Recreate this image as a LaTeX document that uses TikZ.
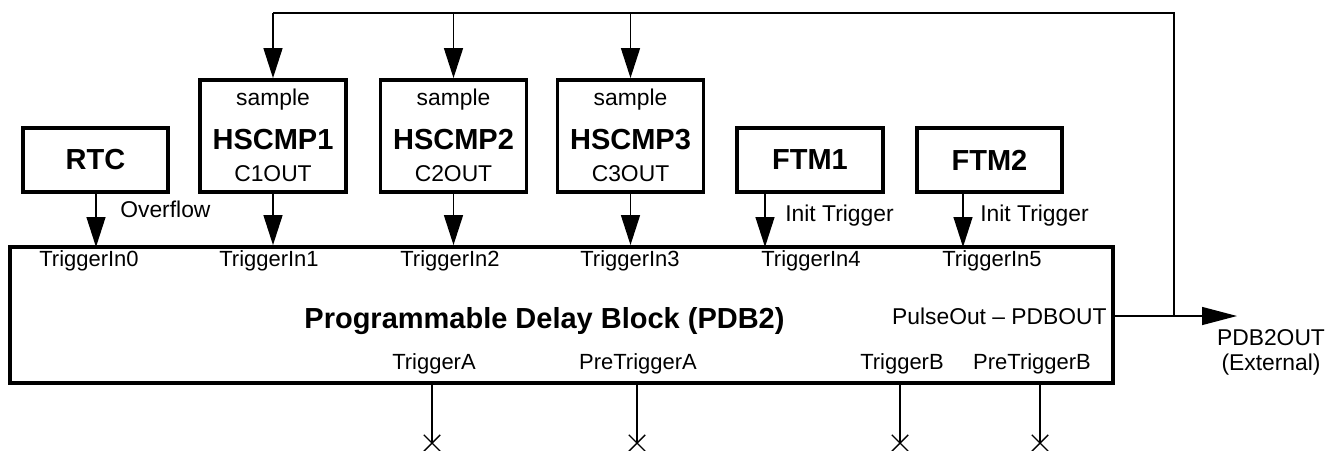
\documentclass[tikz,border=0pt]{standalone}
\usepackage{fontspec}
\setmainfont{Liberation Sans}
\usetikzlibrary{arrows.meta,positioning,calc,shapes.misc}

\begin{document}
\begin{tikzpicture}[x=0.02cm,y=-0.02cm,
    blk/.style={draw,line width=2.2pt,inner sep=0pt},
    sig/.style={line width=0.8pt},
    arr/.style={sig,-{Triangle[length=0.6cm,width=0.38cm]}},
    lbl/.style={font=\fontsize{12.5}{14}\selectfont,inner sep=0pt},
    big/.style={font=\fontsize{16.5}{19}\selectfont\bfseries,inner sep=0pt}]
  \useasboundingbox (0,0) rectangle (1329,450);
  % main block
  \node[blk,minimum width=22.06cm,minimum height=2.72cm] (pdb) at (561.5,315) {};
  \node[big] (title) at (544.5,321) {Programmable Delay Block (PDB2)};
  % trigger sources
  \node[blk,big,minimum width=2.9cm,minimum height=1.28cm] (rtc) at (95.5,160) {RTC};
  \node[blk,big,minimum width=2.92cm,minimum height=1.28cm] (ftm1) at (810,160) {FTM1};
  \node[blk,big,minimum width=2.9cm,minimum height=1.28cm] (ftm2) at (989.5,160) {FTM2};
  \foreach \i/\x in {1/273,2/453.5,3/630.5}{
    \node[blk,minimum width=2.92cm,minimum height=2.24cm] (hs\i) at (\x,136) {};
    \node[lbl,font=\fontsize{13}{15}\selectfont] (smp\i) at ($(hs\i.north)+(0,22)$) {sample};
    \node[big] (nm\i) at ($(hs\i.north)+(0,61)$) {HSCMP\i};
    \node[lbl,font=\fontsize{13}{15}\selectfont] (co\i) at ($(hs\i.north)+(0,96)$) {C\i OUT};
  }
  % trigger inputs
  \coordinate (ti0) at (96,247);
  \coordinate (ti4) at (765,247);
  \coordinate (ti5) at (963,247);
  \draw[arr] (rtc.south -| ti0) -- (ti0);
  \foreach \i in {1,2,3}
    \draw[arr] (hs\i.south) -- (hs\i.south |- pdb.north);
  \draw[arr] (ftm1.south -| ti4) -- (ti4);
  \draw[arr] (ftm2.south -| ti5) -- (ti5);
  \node[lbl,font=\fontsize{13}{15}\selectfont,anchor=west] (ovf) at (120,209) {Overflow};
  \node[lbl,font=\fontsize{13}{15}\selectfont,anchor=west] (it4) at (785,216) {Init Trigger};
  \node[lbl,font=\fontsize{13}{15}\selectfont,anchor=west] (it5) at (980,216) {Init Trigger};
  \foreach \i/\x in {0/89,1/269,2/450,3/630,4/811,5/992}
    \node[lbl] (tl\i) at (\x,261) {TriggerIn\i};
  % pulse out and feedback to the comparators
  \node[lbl,font=\fontsize{13}{15}\selectfont,anchor=east] (pout) at (1107,316) {PulseOut -- PDBOUT};
  \coordinate (jn) at (1174,316);
  \coordinate (top) at (0,13);
  \coordinate (otip) at (1237,316);
  \draw[sig,-{Triangle[length=0.7cm,width=0.36cm]}] (pdb.east |- jn) -- (otip);
  \draw[sig] (jn) |- (hs1.north |- top);
  \foreach \i in {1,2,3}
    \draw[arr] (hs\i.north |- top) -- (hs\i.north);
  \node[lbl,font=\fontsize{13}{14.2}\selectfont,align=center] (ext) at (1271,352) {PDB2OUT\\(External)};
  % unconnected outputs
  \foreach \n/\t/\lx/\x in {a/TriggerA/434/432,pa/PreTriggerA/638/637,b/TriggerB/902/900,pb/PreTriggerB/1032/1040}{
    \node[lbl] (o\n) at (\lx,364) {\t};
    \node[cross out,draw,sig,minimum size=0.3cm,inner sep=0pt] (x\n) at (\x,443) {};
    \draw[sig] (pdb.south -| x\n) -- (x\n.center);
  }
\end{tikzpicture}
\end{document}
